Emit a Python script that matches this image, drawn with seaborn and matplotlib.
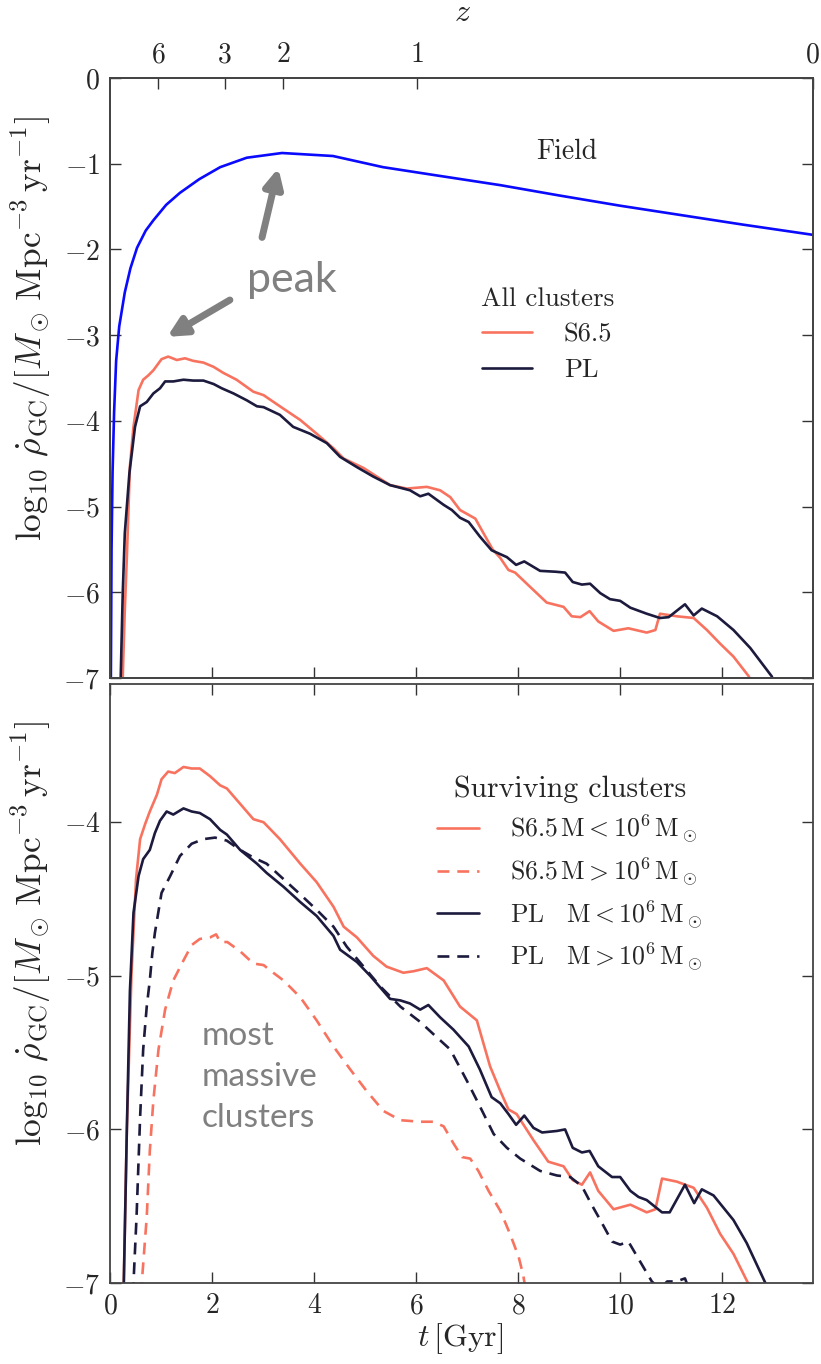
import numpy as np
import pandas as pd
import matplotlib
matplotlib.use("Agg")
import matplotlib.pyplot as plt
import seaborn as sns

# ---- cosmic time of the redshift ticks on the top axis ----
z_labels = ["6", "3", "2", "1", "0"]
z_tick_time = [0.95, 2.25, 3.40, 6.02, 13.77]

# ---- field star formation rate density ----
t_field = [0.015, 0.03, 0.05, 0.08, 0.12, 0.18, 0.29, 0.4, 0.53, 0.7, 0.85, 1.1, 1.37,
           1.75, 2.16, 2.68, 3.37, 4.37, 5.35, 6.33, 7.65, 8.8, 10.0, 11.2, 12.4, 13.78]
v_field = [-7.2, -5.5, -4.6, -3.9, -3.3, -2.9, -2.5, -2.22, -1.98, -1.78, -1.66, -1.48, -1.34,
           -1.18, -1.04, -0.93, -0.875, -0.91, -1.04, -1.13, -1.25, -1.37, -1.49, -1.60, -1.71, -1.83]

# ---- all clusters, S6.5 model ----
t_all_s65 = [0.22, 0.25, 0.29, 0.33, 0.39, 0.46, 0.56, 0.65, 0.75, 0.85, 1.01, 1.14, 1.31, 1.47,
             1.63, 1.83, 2.03, 2.22, 2.48, 2.81, 3.01, 3.33, 3.73, 4.05, 4.38, 4.58, 4.97, 5.23,
             5.49, 5.82, 6.21, 6.47, 6.67, 6.86, 7.16, 7.32, 7.50, 7.65, 7.81, 7.94, 8.24, 8.56,
             8.89, 9.05, 9.22, 9.40, 9.57, 9.87, 10.16, 10.52, 10.69, 10.78, 11.11, 11.44, 11.70,
             11.96, 12.22, 12.52, 12.60]
v_all_s65 = [-7.3, -6.98, -6.2, -5.59, -4.53, -4.07, -3.64, -3.52, -3.47, -3.41, -3.28, -3.25,
             -3.29, -3.27, -3.30, -3.32, -3.37, -3.44, -3.52, -3.66, -3.70, -3.83, -3.99, -4.15,
             -4.32, -4.44, -4.55, -4.65, -4.75, -4.79, -4.77, -4.81, -4.89, -5.04, -5.14, -5.31,
             -5.50, -5.60, -5.74, -5.77, -5.94, -6.12, -6.17, -6.28, -6.29, -6.22, -6.34, -6.45,
             -6.42, -6.47, -6.44, -6.25, -6.28, -6.30, -6.44, -6.60, -6.75, -6.98, -7.1]

# ---- all clusters, PL model ----
t_all_pl = [0.19, 0.21, 0.25, 0.29, 0.38, 0.49, 0.59, 0.72, 0.85, 0.98, 1.08, 1.24, 1.44, 1.63,
            1.83, 2.03, 2.19, 2.42, 2.68, 2.88, 3.01, 3.33, 3.59, 3.92, 4.25, 4.51, 4.84, 5.16,
            5.49, 5.88, 6.08, 6.24, 6.54, 6.70, 6.86, 7.03, 7.25, 7.48, 7.78, 7.96, 8.12, 8.43,
            8.73, 8.92, 9.07, 9.25, 9.41, 9.61, 9.80, 10.0, 10.20, 10.52, 10.78, 10.95, 11.27,
            11.44, 11.60, 11.90, 12.22, 12.55, 12.97, 13.05]
v_all_pl = [-7.3, -6.98, -6.0, -5.31, -4.61, -4.07, -3.83, -3.78, -3.68, -3.62, -3.54, -3.54,
            -3.52, -3.53, -3.53, -3.57, -3.62, -3.68, -3.76, -3.83, -3.84, -3.93, -4.07, -4.15,
            -4.26, -4.42, -4.54, -4.65, -4.75, -4.81, -4.88, -4.85, -4.98, -5.04, -5.13, -5.18,
            -5.35, -5.51, -5.59, -5.68, -5.64, -5.75, -5.76, -5.77, -5.88, -5.91, -5.90, -6.01,
            -6.08, -6.10, -6.18, -6.25, -6.30, -6.29, -6.14, -6.27, -6.19, -6.28, -6.44, -6.65,
            -6.98, -7.1]

# ---- surviving clusters, S6.5, M < 1e6 Msun ----
t_s65_lo = [0.24, 0.27, 0.33, 0.42, 0.51, 0.59, 0.69, 0.78, 0.92, 1.01, 1.14, 1.27, 1.44, 1.60,
            1.76, 1.96, 2.16, 2.29, 2.55, 2.81, 3.01, 3.33, 3.73, 4.05, 4.38, 4.58, 4.84, 5.16,
            5.42, 5.75, 5.95, 6.21, 6.54, 6.86, 7.19, 7.45, 7.65, 7.81, 7.97, 8.30, 8.59, 8.89,
            9.07, 9.25, 9.41, 9.57, 9.87, 10.20, 10.52, 10.69, 10.82, 11.11, 11.44, 11.70, 11.96,
            12.22, 12.52, 12.60]
v_s65_lo = [-7.3, -7.0, -6.0, -5.0, -4.37, -4.11, -4.01, -3.93, -3.82, -3.72, -3.67, -3.68,
            -3.64, -3.65, -3.65, -3.70, -3.76, -3.78, -3.88, -3.98, -4.00, -4.11, -4.27, -4.39,
            -4.55, -4.68, -4.75, -4.87, -4.94, -4.98, -4.97, -4.95, -5.03, -5.20, -5.29, -5.59,
            -5.75, -5.87, -5.90, -6.07, -6.21, -6.24, -6.33, -6.36, -6.28, -6.40, -6.52, -6.49,
            -6.54, -6.52, -6.32, -6.34, -6.38, -6.51, -6.68, -6.81, -7.01, -7.1]

# ---- surviving clusters, S6.5, M > 1e6 Msun ----
t_s65_hi = [0.60, 0.62, 0.72, 0.78, 0.85, 0.95, 1.08, 1.24, 1.44, 1.60, 1.76, 1.96, 2.08, 2.16,
            2.30, 2.55, 2.81, 3.01, 3.20, 3.40, 3.73, 4.05, 4.38, 4.71, 5.03, 5.36, 5.69, 6.08,
            6.34, 6.54, 6.73, 6.90, 7.06, 7.22, 7.42, 7.65, 7.84, 8.01, 8.10, 8.13, 8.20]
v_s65_hi = [-7.2, -7.01, -6.57, -6.14, -5.81, -5.48, -5.22, -5.03, -4.90, -4.80, -4.76, -4.75,
            -4.73, -4.78, -4.78, -4.84, -4.92, -4.93, -4.98, -5.03, -5.14, -5.29, -5.46, -5.61,
            -5.75, -5.88, -5.94, -5.95, -5.95, -5.98, -6.09, -6.18, -6.19, -6.27, -6.40, -6.53,
            -6.68, -6.83, -6.95, -7.01, -7.2]

# ---- surviving clusters, PL, M < 1e6 Msun ----
t_pl_lo = [0.24, 0.27, 0.33, 0.39, 0.46, 0.56, 0.65, 0.78, 0.88, 0.98, 1.11, 1.24, 1.44, 1.60,
           1.76, 1.96, 2.16, 2.29, 2.55, 2.88, 3.07, 3.40, 3.73, 4.05, 4.38, 4.51, 4.84, 5.10,
           5.49, 5.69, 5.88, 6.08, 6.24, 6.47, 6.73, 7.03, 7.25, 7.48, 7.65, 7.81, 7.96, 8.12,
           8.30, 8.47, 8.76, 8.92, 9.07, 9.25, 9.40, 9.57, 9.84, 10.0, 10.20, 10.36, 10.52, 10.82,
           10.97, 11.27, 11.45, 11.60, 11.83, 12.22, 12.48, 12.86, 12.95]
v_pl_lo = [-7.3, -7.0, -6.0, -5.1, -4.59, -4.35, -4.24, -4.18, -4.07, -3.99, -3.93, -3.95,
           -3.91, -3.93, -3.94, -3.98, -4.05, -4.08, -4.18, -4.27, -4.33, -4.42, -4.52, -4.61,
           -4.74, -4.83, -4.91, -5.00, -5.15, -5.16, -5.18, -5.22, -5.19, -5.27, -5.35, -5.46,
           -5.61, -5.79, -5.83, -5.90, -5.97, -5.91, -5.99, -6.02, -6.01, -6.00, -6.12, -6.15,
           -6.14, -6.24, -6.31, -6.31, -6.40, -6.44, -6.46, -6.54, -6.54, -6.36, -6.48, -6.39,
           -6.43, -6.59, -6.74, -7.01, -7.1]

# ---- surviving clusters, PL, M > 1e6 Msun ----
t_pl_hi = [0.44, 0.46, 0.52, 0.59, 0.65, 0.72, 0.78, 0.83, 0.88, 1.01, 1.18, 1.37, 1.60, 1.83,
           2.06, 2.29, 2.55, 2.81, 3.07, 3.40, 3.73, 4.05, 4.38, 4.64, 4.97, 5.30, 5.69, 6.08,
           6.34, 6.67, 6.99, 7.25, 7.52, 7.78, 8.04, 8.43, 8.76, 9.02, 9.25, 9.44, 9.61, 9.84,
           10.0, 10.16, 10.39, 10.62, 10.78, 10.92, 11.10, 11.27, 11.36]
v_pl_hi = [-7.2, -7.0, -6.57, -5.92, -5.48, -5.20, -5.03, -4.85, -4.72, -4.46, -4.35, -4.22,
           -4.14, -4.11, -4.10, -4.12, -4.18, -4.23, -4.27, -4.37, -4.47, -4.57, -4.68, -4.81,
           -4.94, -5.07, -5.20, -5.30, -5.38, -5.48, -5.68, -5.85, -6.03, -6.12, -6.19, -6.27,
           -6.30, -6.31, -6.37, -6.49, -6.59, -6.73, -6.75, -6.73, -6.86, -6.99, -7.04, -6.99,
           -6.99, -6.97, -7.05]

ORANGE = "#f8735f"
NAVY = "#1c1a3d"
BLUE = "#0a0aff"
GREY = "#808080"
LW = 1.9
DASH = (4.5, 3.0)

sns.set_theme(style="ticks")
plt.rcParams.update({
    "font.family": "serif",
    "font.serif": ["cmr10"],
    "mathtext.fontset": "cm",
    "axes.formatter.use_mathtext": True,
    "axes.unicode_minus": True,
})

W, H = 821, 1364
fig = plt.figure(figsize=(W / 100, H / 100), dpi=100)
ax1 = fig.add_axes([0.1340, 0.50293, 0.8563, 0.43988])
ax2 = fig.add_axes([0.1340, 0.05938, 0.8563, 0.43915])


def draw(ax, t, v, color, dashed=False):
    df = pd.DataFrame({"t": t, "v": v})
    sns.lineplot(data=df, x="t", y="v", ax=ax, color=color, linewidth=LW,
                 estimator=None, sort=False)
    line = ax.get_lines()[-1]
    if dashed:
        line.set_dashes(DASH)
    return line


# top panel
draw(ax1, t_field, v_field, BLUE)
h_s65 = draw(ax1, t_all_s65, v_all_s65, ORANGE)
h_pl = draw(ax1, t_all_pl, v_all_pl, NAVY)

# bottom panel
h1 = draw(ax2, t_s65_lo, v_s65_lo, ORANGE)
h2 = draw(ax2, t_s65_hi, v_s65_hi, ORANGE, dashed=True)
h3 = draw(ax2, t_pl_lo, v_pl_lo, NAVY)
h4 = draw(ax2, t_pl_hi, v_pl_hi, NAVY, dashed=True)

for ax in (ax1, ax2):
    ax.set_xlim(0, 13.78)
    ax.tick_params(direction="in", length=8, width=1.0, color="#333333",
                   labelsize=20, pad=7, top=True, right=True)
    for s in ax.spines.values():
        s.set_color("#444444")
        s.set_linewidth(1.3)
    ax.set_ylabel("")
    ax.set_xlabel("")

ax1.set_ylim(-7, 0)
ax1.set_yticks(np.arange(-7, 1))
ax1.set_xticks(range(0, 13, 2))
ax1.tick_params(labelbottom=False, top=False)

ax2.set_ylim(-7, -3.1)
ax2.set_yticks([-7, -6, -5, -4])
ax2.set_xticks(range(0, 13, 2))
ax2.set_xlabel(r"$t\,[\mathrm{Gyr}]$", fontsize=23)
ax2.xaxis.set_label_coords(0.498, -0.063)

# vertical axis titles of both panels
ylab = r"$\log_{10}\,\dot{\rho}_{\mathrm{GC}}/[M_\odot\,\mathrm{Mpc}^{-3}\,\mathrm{yr}^{-1}]$"
for yc in (328, 933):
    fig.text(31 / W, 1 - yc / H, ylab, fontsize=25.5, rotation=90,
             ha="center", va="center")

# redshift axis on top
axz = ax1.twiny()
axz.set_xlim(ax1.get_xlim())
axz.set_xticks(z_tick_time)
axz.set_xticklabels(z_labels)
axz.tick_params(direction="in", length=8, width=1.0, color="#333333", labelsize=20, pad=7)
axz.set_xlabel(r"$z$", fontsize=23)
axz.xaxis.set_label_coords(0.502, 1.095)
for s in axz.spines.values():
    s.set_color("#444444")
    s.set_linewidth(1.3)

# annotations
ax1.text(8.96, -0.86, "Field", fontsize=20, ha="center", va="center")
ax1.text(3.57, -2.36, "peak", fontsize=31, color=GREY, family="Lato",
         ha="center", va="center")
arrow = dict(arrowstyle="-|>", mutation_scale=28, lw=5, color=GREY,
             shrinkA=0, shrinkB=0)
ax1.annotate("", xy=(3.30, -1.05), xytext=(2.98, -1.86), arrowprops=arrow)
ax1.annotate("", xy=(1.12, -3.02), xytext=(2.35, -2.59), arrowprops=arrow)
ax2.text(1.80, -5.66, "most\nmassive\nclusters", fontsize=24, color=GREY, family="Lato",
         ha="left", va="center", linespacing=1.45)

# legends
ax1.legend(handles=[h_s65, h_pl], labels=["S6.5", "PL"], title="All clusters",
           loc="upper center", bbox_to_anchor=(0.622, 0.652), frameon=False,
           fontsize=19, title_fontsize=19.5, handlelength=1.9, handletextpad=1.2,
           labelspacing=0.45, borderpad=0, borderaxespad=0)

labels2 = [r"$\mathrm{S6.5\,M} < 10^6\,\mathrm{M}_\odot$",
           r"$\mathrm{S6.5\,M} > 10^6\,\mathrm{M}_\odot$",
           r"$\mathrm{PL\quad M} < 10^6\,\mathrm{M}_\odot$",
           r"$\mathrm{PL\quad M} > 10^6\,\mathrm{M}_\odot$"]
ax2.legend(handles=[h1, h2, h3, h4], labels=labels2, title="Surviving clusters",
           loc="upper center", bbox_to_anchor=(0.654, 0.848), frameon=False,
           fontsize=18.5, title_fontsize=21.5, handlelength=1.65, handletextpad=1.2,
           labelspacing=0.38, borderpad=0, borderaxespad=0)

fig.savefig("out.png", dpi=100)
